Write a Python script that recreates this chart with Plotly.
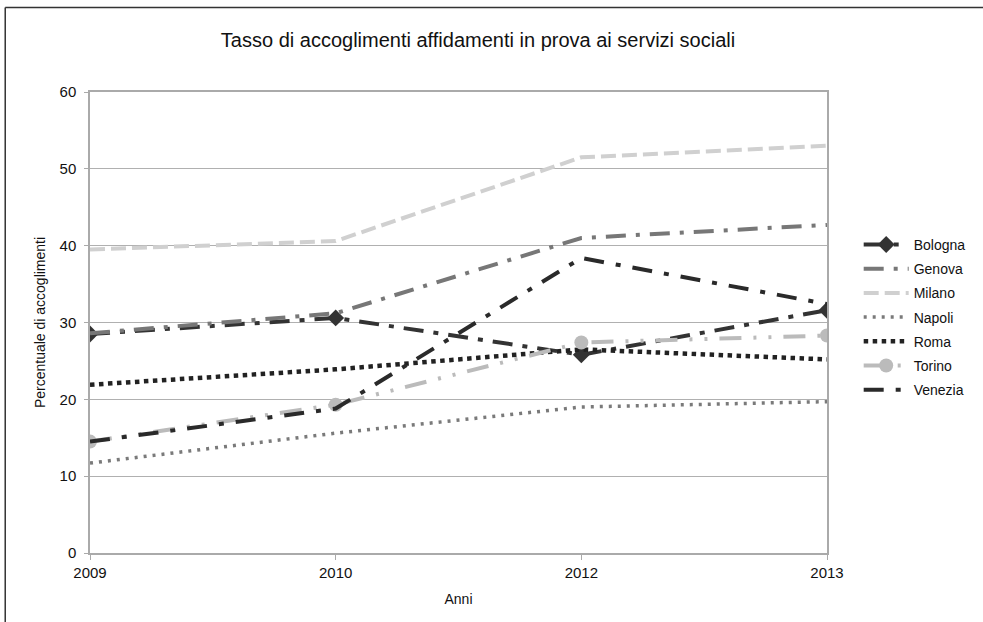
import plotly.graph_objects as go

years = ["2009", "2010", "2012", "2013"]
bologna = [28.5, 30.6, 25.8, 31.6]
genova = [28.6, 31.2, 41.0, 42.7]
milano = [39.5, 40.6, 51.5, 53.0]
napoli = [11.7, 15.6, 19.0, 19.7]
roma = [21.9, 23.9, 26.5, 25.2]
torino = [14.5, 19.3, 27.4, 28.3]
venezia = [14.5, 18.8, 38.4, 32.4]

series = [
    ("Bologna", bologna, "#333333", "20px,10px,5px,10px", 4, "diamond", 13),
    ("Genova", genova, "#777777", "20px,10px,4px,10px", 4, None, 0),
    ("Milano", milano, "#d0d0d0", "15px,6px", 4, None, 0),
    ("Napoli", napoli, "#7a7a7a", "3px,6px", 3.5, None, 0),
    ("Roma", roma, "#222222", "4.5px,4.5px", 4.5, None, 0),
    ("Torino", torino, "#bbbbbb", "22px,12px,3px,12px,3px,12px", 4, "circle", 14),
    ("Venezia", venezia, "#2a2a2a", "20px,12px,5px,12px", 4, None, 0),
]

fig = go.Figure()
for name, vals, color, dash, width, sym, msize in series:
    mode = "lines+markers" if sym else "lines"
    tr = go.Scatter(
        x=years, y=vals, name=name, mode=mode,
        line=dict(color=color, width=width, dash=dash),
        legendgroup=name, cliponaxis=True,
    )
    if sym:
        tr.marker = dict(symbol=sym, size=msize, color=color)
    fig.add_trace(tr)

fig.update_layout(
    width=983, height=622,
    paper_bgcolor="white", plot_bgcolor="white",
    margin=dict(l=90, r=154, t=92, b=69),
    font=dict(family="Liberation Sans, Arial, sans-serif", color="#111111", size=15),
    title=dict(text="Tasso di accoglimenti affidamenti in prova ai servizi sociali",
               x=478 / 983, xanchor="center", y=1 - 40 / 622, yanchor="middle",
               font=dict(size=20, color="#111111")),
    showlegend=True,
    legend=dict(x=1.043, y=0.703, xanchor="left", yanchor="top",
                font=dict(size=14), tracegroupgap=3, itemwidth=45,
                bgcolor="rgba(0,0,0,0)", traceorder="grouped"),
    xaxis=dict(type="category", range=[0, 3], showgrid=False,
               showline=True, linecolor="#aaaaaa", linewidth=1.5, mirror=True,
               ticks="outside", ticklen=5, tickcolor="#aaaaaa",
               tickfont=dict(size=15),
               title=dict(text="Anni", font=dict(size=14), standoff=14)),
    yaxis=dict(range=[0, 60], dtick=10, showgrid=True, gridcolor="#b0b0b0", gridwidth=1.2,
               showline=True, linecolor="#aaaaaa", linewidth=1.5, mirror=True,
               ticks="outside", ticklen=4, tickcolor="#aaaaaa",
               tickfont=dict(size=15), zeroline=False, ticklabelstandoff=5,
               title=dict(text="Percentuale di accoglimenti", font=dict(size=14), standoff=11)),
)

# outer frame (left and top edges of the original picture)
fig.add_shape(type="line", xref="paper", yref="paper",
              x0=(5 - 90) / 739, x1=(1000 - 90) / 739,
              y0=(553 - 7.5) / 461, y1=(553 - 7.5) / 461,
              line=dict(color="#333333", width=1.5), layer="above")
fig.add_shape(type="line", xref="paper", yref="paper",
              x0=(5 - 90) / 739, x1=(5 - 90) / 739,
              y0=(553 - 7.5) / 461, y1=(553 - 640) / 461,
              line=dict(color="#333333", width=1.5), layer="above")

fig.write_html("out.html", config={"displayModeBar": False},
               post_script="document.body.style.margin='0px';document.body.style.overflow='hidden';")
